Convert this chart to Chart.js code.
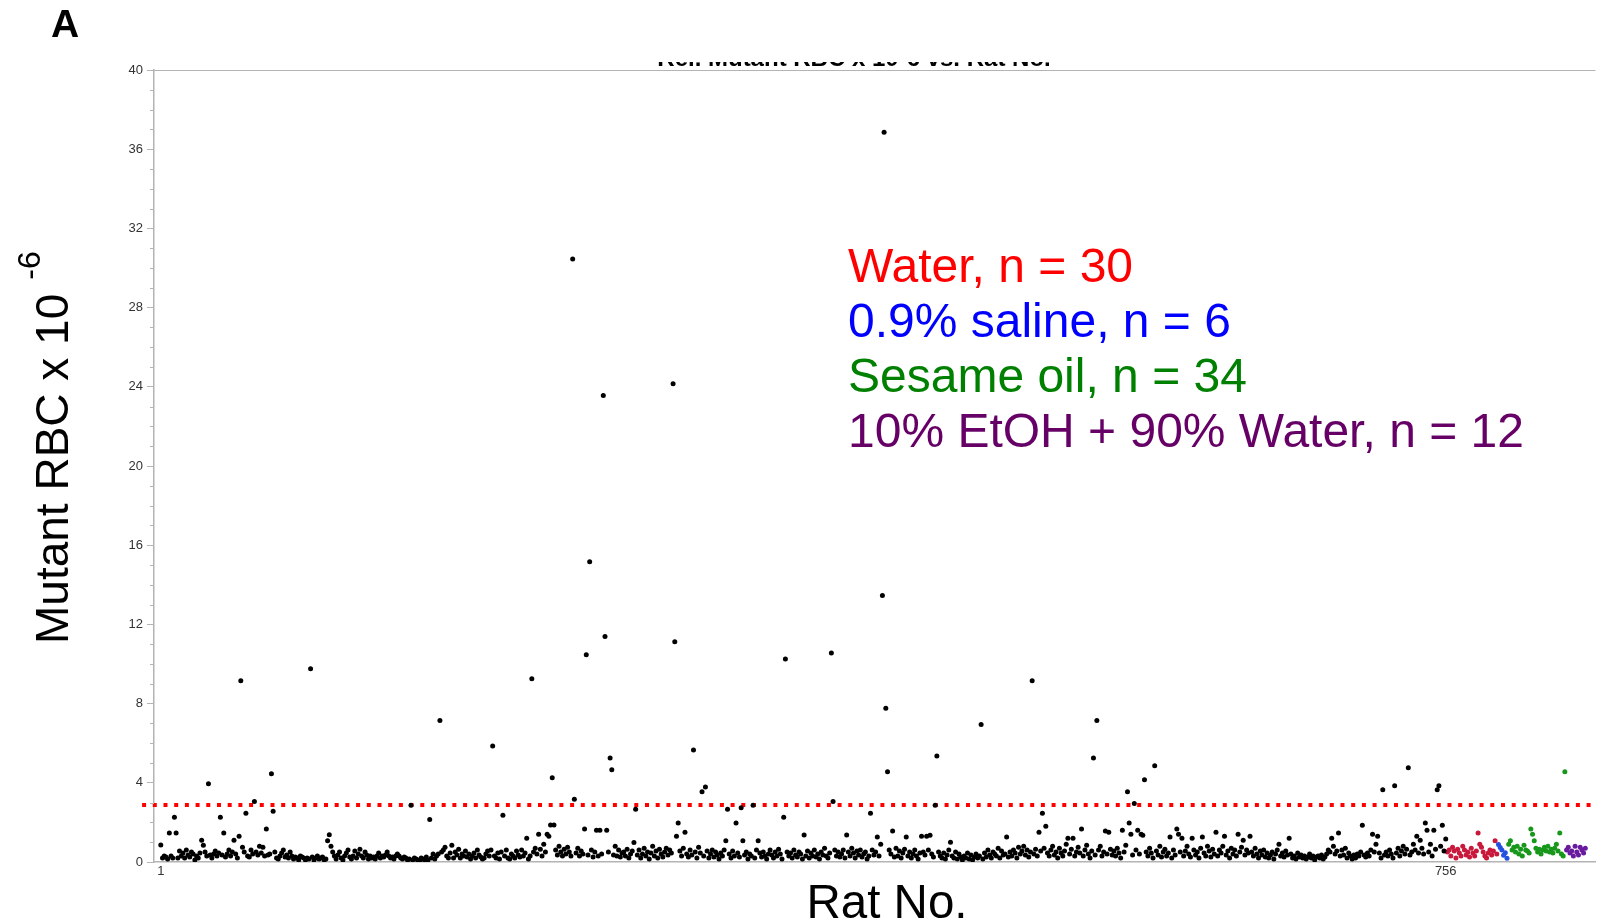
<!DOCTYPE html>
<html>
<head>
<meta charset="utf-8">
<title>Mutant RBC vs Rat No.</title>
<script src="https://cdn.jsdelivr.net/npm/chart.js@4"></script>
<style>
  html, body { margin: 0; padding: 0; background: #fff; }
  #wrap { width: 1598px; height: 924px; }
</style>
</head>
<body>
<div id="wrap"><canvas id="chartRbc" width="1598" height="924"></canvas></div>
<script>
// historical controls, rat 1..756 (black)
const historicalRats = [
  0.86, 0.2, 0.3, 0.25, 0.15, 1.46, 0.3, 0.2, 2.26, 1.46, 0.2, 0.55, 0.3, 0.45, 0.2, 0.6, 0.35, 0.25, 0.5, 0.4,
  0.1, 0.3, 0.2, 0.45, 1.1, 0.85, 0.5, 0.3, 3.95, 0.35, 0.2, 0.4, 0.55, 0.3, 0.45, 2.26, 0.35, 1.46, 0.25, 0.4,
  0.6, 0.3, 0.5, 1.1, 0.4, 0.2, 1.3, 9.16, 0.75, 0.5, 2.46, 0.3, 0.25, 0.6, 0.4, 3.06, 0.5, 0.35, 0.8, 0.45,
  0.75, 0.3, 1.67, 0.35, 0.4, 4.46, 2.56, 0.5, 0.2, 0.15, 0.3, 0.45, 0.6, 0.25, 0.35, 0.2, 0.5, 0.3, 0.15, 0.25,
  0.2, 0.1, 0.3, 0.25, 0.2, 0.1, 0.2, 0.15, 9.76, 0.25, 0.1, 0.2, 0.3, 0.15, 0.2, 0.25, 0.1, 0.15, 1.07, 1.37,
  0.8, 0.5, 0.3, 0.15, 0.35, 0.5, 0.2, 0.1, 0.3, 0.45, 0.6, 0.25, 0.15, 0.3, 0.55, 0.2, 0.4, 0.65, 0.3, 0.2,
  0.5, 0.35, 0.15, 0.3, 0.2, 0.25, 0.15, 0.3, 0.45, 0.2, 0.3, 0.25, 0.35, 0.5, 0.3, 0.2, 0.25, 0.15, 0.3, 0.4,
  0.3, 0.2, 0.15, 0.25, 0.2, 0.1, 0.15, 2.86, 0.1, 0.2, 0.15, 0.1, 0.05, 0.2, 0.15, 0.1, 0.25, 0.1, 2.15, 0.2,
  0.4, 0.15, 0.3, 0.4, 7.15, 0.5, 0.6, 0.75, 0.3, 0.2, 0.45, 0.85, 0.2, 0.5, 0.35, 0.65, 0.2, 0.4, 0.3, 0.55,
  0.25, 0.4, 0.15, 0.3, 0.45, 0.2, 0.6, 0.35, 0.25, 0.15, 0.2, 0.4, 0.55, 0.3, 0.6, 5.86, 0.3, 0.2, 0.45, 0.15,
  0.5, 2.36, 0.3, 0.6, 0.2, 0.15, 0.4, 0.3, 0.2, 0.55, 0.35, 0.25, 0.6, 0.3, 0.45, 1.2, 0.15, 0.3, 9.26, 0.5,
  0.7, 0.4, 1.4, 0.65, 0.3, 0.9, 0.5, 1.4, 1.3, 1.87, 4.26, 1.87, 0.6, 0.35, 0.8, 0.5, 0.3, 0.65, 0.4, 0.75,
  0.5, 0.3, 30.45, 3.17, 0.45, 0.7, 0.3, 0.55, 0.4, 1.67, 10.47, 0.35, 15.16, 0.6, 0.25, 0.5, 1.6, 0.3, 1.6, 0.4,
  23.56, 11.39, 1.6, 0.5, 5.25, 4.66, 0.35, 0.8, 0.3, 0.6, 0.25, 0.45, 0.5, 0.3, 0.65, 0.2, 0.4, 0.55, 0.98, 2.66,
  0.35, 0.6, 0.2, 0.4, 0.7, 0.3, 0.5, 0.15, 0.45, 0.8, 0.3, 0.55, 0.2, 0.65, 0.4, 0.25, 0.5, 0.7, 0.35, 0.6,
  0.45, 24.16, 11.13, 1.3, 1.97, 0.55, 0.3, 0.7, 1.5, 0.4, 0.25, 0.6, 0.35, 5.66, 0.5, 0.2, 0.75, 0.45, 3.55, 0.3,
  3.79, 0.55, 0.2, 0.4, 0.6, 0.25, 0.5, 0.35, 0.15, 0.45, 0.3, 0.6, 1.07, 2.66, 0.4, 0.2, 0.55, 0.3, 1.97, 0.45,
  0.25, 2.74, 1.07, 0.35, 0.5, 0.15, 0.4, 0.3, 2.86, 0.2, 0.6, 1.07, 0.45, 0.25, 0.5, 0.3, 0.15, 0.4, 0.6, 0.35,
  0.2, 0.5, 0.3, 0.65, 0.4, 0.15, 2.26, 10.25, 0.5, 0.3, 0.45, 0.2, 0.6, 0.35, 0.25, 0.5, 0.4, 0.15, 1.36, 0.3,
  0.55, 0.2, 0.45, 0.3, 0.6, 0.25, 0.4, 0.15, 0.5, 0.35, 0.7, 0.3, 0.2, 0.45, 10.56, 3.06, 0.6, 0.3, 0.5, 0.25,
  0.4, 0.6, 0.2, 1.36, 0.5, 0.3, 0.7, 0.45, 0.2, 0.55, 0.35, 0.6, 0.25, 0.4, 0.5, 0.15, 0.3, 2.46, 0.6, 0.35,
  0.5, 1.26, 0.3, 0.9, 13.46, 36.85, 7.76, 4.56, 0.6, 0.4, 1.57, 0.25, 0.7, 0.3, 0.55, 0.2, 0.45, 0.65, 1.26, 0.3,
  0.5, 0.2, 0.4, 0.6, 0.3, 0.15, 0.45, 1.3, 0.5, 0.35, 1.3, 0.6, 1.35, 0.4, 0.25, 2.86, 5.35, 0.5, 0.3, 0.2,
  0.45, 0.15, 0.35, 0.6, 1.0, 0.3, 0.2, 0.5, 0.15, 0.4, 0.25, 0.1, 0.3, 0.2, 0.45, 0.15, 0.35, 0.1, 0.25, 0.4,
  0.2, 0.3, 6.95, 0.15, 0.45, 0.25, 0.6, 0.35, 0.2, 0.5, 0.4, 0.3, 0.7, 0.2, 0.55, 0.35, 0.4, 1.26, 0.25, 0.5,
  0.3, 0.6, 0.45, 0.2, 0.75, 0.4, 0.55, 0.8, 0.35, 0.6, 0.25, 0.5, 9.16, 0.4, 0.65, 0.3, 1.5, 0.55, 2.46, 0.7,
  1.8, 0.45, 0.3, 0.6, 0.8, 0.35, 0.5, 0.2, 0.7, 0.45, 0.3, 0.55, 0.9, 1.2, 0.4, 0.65, 1.2, 0.3, 0.5, 0.75,
  0.45, 1.67, 0.3, 0.6, 0.85, 0.4, 0.2, 0.55, 5.25, 0.35, 7.15, 0.6, 0.8, 0.3, 0.5, 1.57, 0.4, 1.5, 0.65, 0.35,
  0.55, 0.3, 0.7, 0.45, 0.2, 1.6, 0.5, 0.85, 3.55, 1.97, 1.4, 0.35, 2.96, 0.6, 1.6, 0.4, 1.4, 1.35, 4.16, 0.5,
  0.3, 0.7, 0.45, 0.2, 4.86, 0.55, 0.35, 0.8, 0.25, 0.5, 0.65, 0.3, 0.45, 1.26, 0.2, 0.6, 0.35, 1.67, 1.4, 0.5,
  1.2, 0.3, 0.55, 0.8, 0.4, 0.25, 1.2, 0.6, 0.35, 0.5, 0.2, 0.7, 1.26, 0.45, 0.3, 0.8, 0.55, 0.25, 0.65, 0.4,
  1.5, 0.3, 0.6, 0.45, 0.8, 1.3, 0.35, 0.55, 0.2, 0.7, 0.4, 0.6, 0.3, 1.4, 0.5, 0.75, 1.1, 0.35, 0.6, 0.45,
  1.3, 0.5, 0.3, 0.7, 0.4, 0.2, 0.55, 0.35, 0.6, 0.25, 0.45, 0.2, 0.35, 0.5, 0.15, 0.4, 0.6, 0.9, 0.3, 0.45,
  0.25, 0.55, 0.35, 1.2, 0.4, 0.2, 0.3, 0.15, 0.45, 0.25, 0.35, 0.2, 0.3, 0.15, 0.25, 0.4, 0.2, 0.3, 0.1, 0.25,
  0.3, 0.2, 0.35, 0.15, 0.25, 0.4, 0.6, 0.5, 1.2, 0.8, 0.4, 0.55, 1.46, 0.3, 0.6, 0.35, 0.7, 0.2, 0.45, 0.3,
  0.15, 0.35, 0.2, 0.4, 0.3, 0.5, 1.86, 0.35, 0.25, 0.45, 0.3, 0.6, 1.4, 0.5, 0.9, 1.3, 0.45, 0.2, 3.65, 0.35,
  0.5, 0.3, 0.6, 0.4, 0.2, 3.85, 0.45, 0.7, 0.3, 0.55, 0.8, 0.4, 0.65, 4.76, 0.35, 0.5, 0.9, 0.6, 1.3, 0.45,
  1.1, 0.7, 0.4, 1.97, 1.6, 0.5, 0.9, 0.3, 1.6, 0.65, 3.65, 3.85, 0.8, 1.86, 0.55, 1.16
];

// vehicle groups, following on after rat 756
const waterVals = [0.5, 0.6, 0.3, 0.75, 0.55, 0.2, 0.65, 0.45, 0.3, 0.8, 0.6, 0.35, 0.5, 0.25, 0.7,
  0.45, 0.3, 0.55, 1.46, 0.9, 0.75, 0.5, 0.3, 0.2, 0.45, 0.6, 0.35, 0.55, 1.07, 0.4];
const salineVals = [0.89, 0.73, 0.61, 0.34, 0.47, 0.19];
const sesameVals = [0.9, 1.07, 0.6, 0.75, 0.5, 0.8, 0.4, 0.65, 0.3, 0.85, 0.6, 0.55, 0.45, 1.67, 1.4, 1.07, 0.7,
  0.5, 0.65, 0.4, 0.6, 0.75, 0.55, 0.8, 0.5, 0.65, 0.45, 0.7, 0.9, 0.55, 1.46, 0.4, 0.3, 4.56];
const etohVals = [0.6, 0.75, 0.45, 0.55, 0.3, 0.8, 0.5, 0.35, 0.75, 0.6, 0.45, 0.7];

const xTickVals = [1, 756];
const yTickStep = 4;
const cutoff = 2.88;

const groupLabels = ["Water, n = 30", "0.9% saline, n = 6", "Sesame oil, n = 34", "10% EtOH + 90% Water, n = 12"];
const groupText = ["#ff0000", "#0000ff", "#008000", "#660066"];
const groupDots = ["#c8193c", "#2450e0", "#17981a", "#6a1a9e"];

const FONT = '"Liberation Sans", Arial, Helvetica, sans-serif';

function toPoints(vals, start) {
  return vals.map((v, i) => ({ x: start + i, y: v }));
}

let start = 1;
const blackPts = toPoints(historicalRats, start); start += historicalRats.length;
const waterPts = toPoints(waterVals, start); start += waterVals.length;
const salinePts = toPoints(salineVals, start); start += salineVals.length;
const sesamePts = toPoints(sesameVals, start); start += sesameVals.length;
const etohPts = toPoints(etohVals, start);

function dots(data, color) {
  return {
    type: "scatter",
    data,
    pointRadius: 2.5,
    pointBorderWidth: 0,
    backgroundColor: color,
    borderColor: color,
    pointHoverRadius: 2.5
  };
}

// extra drawing: frame line, minor ticks, titles and group text
const decorations = {
  id: "decorations",
  afterDraw(chart) {
    const ctx = chart.ctx;
    const area = chart.chartArea;
    const ys = chart.scales.y;

    ctx.save();
    ctx.strokeStyle = "#b4b4b4";
    ctx.lineWidth = 1.2;
    ctx.beginPath();
    ctx.moveTo(area.left, area.top + 0.5);
    ctx.lineTo(area.right, area.top + 0.5);
    ctx.stroke();

    // minor ticks
    ctx.lineWidth = 1;
    for (let v = 1; v < 40; v++) {
      if (v % yTickStep === 0) continue;
      const py = Math.round(ys.getPixelForValue(v)) + 0.5;
      ctx.beginPath();
      ctx.moveTo(area.left - 4, py);
      ctx.lineTo(area.left, py);
      ctx.stroke();
    }
    ctx.restore();

    // panel letter
    ctx.save();
    ctx.fillStyle = "#000";
    ctx.font = "bold 39px " + FONT;
    ctx.fillText("A", 51, 37);
    ctx.restore();

    // chart title, mostly cut off at the top of the frame
    ctx.save();
    ctx.beginPath();
    ctx.rect(area.left, 62, area.right - area.left, 6);
    ctx.clip();
    ctx.fillStyle = "#000";
    ctx.font = "bold 24px " + FONT;
    ctx.textAlign = "center";
    ctx.fillText("Rel. Mutant RBC x 10-6 vs. Rat No.", 854, 65.5);
    ctx.restore();

    // y axis title with superscript
    ctx.save();
    ctx.translate(68, 644);
    ctx.rotate(-Math.PI / 2);
    ctx.fillStyle = "#000";
    ctx.font = "46px " + FONT;
    const main = "Mutant RBC x 10";
    ctx.fillText(main, 0, 0);
    const w = ctx.measureText(main).width;
    ctx.font = "32px " + FONT;
    ctx.fillText("-6", w + 14, -28);
    ctx.restore();

    // x axis title
    ctx.save();
    ctx.fillStyle = "#000";
    ctx.font = "47.5px " + FONT;
    ctx.textAlign = "center";
    ctx.fillText("Rat No.", 887, 918);
    ctx.restore();

    // group text
    ctx.save();
    ctx.font = "48px " + FONT;
    groupLabels.forEach((t, i) => {
      ctx.fillStyle = groupText[i];
      ctx.fillText(t, 848, 282 + i * 55);
    });
    ctx.restore();
  }
};

new Chart(document.getElementById("chartRbc"), {
  type: "scatter",
  data: {
    datasets: [
      dots(blackPts, "#000000"),
      dots(waterPts, groupDots[0]),
      dots(salinePts, groupDots[1]),
      dots(sesamePts, groupDots[2]),
      dots(etohPts, groupDots[3]),
      {
        type: "line",
        data: [{ x: -10, y: cutoff }, { x: 844, y: cutoff }],
        borderColor: "#ff0000",
        borderWidth: 4,
        borderDash: [4, 6.7],
        borderCapStyle: "butt",
        pointRadius: 0,
        fill: false,
        clip: false,
        order: 10
      }
    ]
  },
  options: {
    responsive: false,
    animation: false,
    events: [],
    layout: { padding: { top: 70, right: 0, left: 0, bottom: 0 } },
    plugins: {
      legend: { display: false },
      tooltip: { enabled: false },
      title: { display: false }
    },
    scales: {
      x: {
        type: "linear",
        min: -3,
        max: 844,
        afterFit: s => { s.height = 62; },
        afterBuildTicks: s => { s.ticks = xTickVals.map(v => ({ value: v })); },
        grid: { display: false, drawTicks: false, tickLength: 0 },
        border: { display: true, color: "#b4b4b4", width: 1.5 },
        ticks: {
          autoSkip: false,
          maxRotation: 0,
          padding: 2,
          color: "#333",
          font: { family: FONT, size: 13 },
          callback: v => String(v)
        }
      },
      y: {
        min: 0,
        max: 40,
        afterFit: s => { s.width = 154; },
        grid: {
          drawOnChartArea: false,
          tickLength: 7,
          tickColor: c => (c.tick && c.tick.value % yTickStep === 0) ? "#b4b4b4" : "rgba(0,0,0,0)"
        },
        border: { display: true, color: "#b4b4b4", width: 1.5 },
        ticks: {
          stepSize: 1,
          autoSkip: false,
          padding: 4,
          color: "#333",
          font: { family: FONT, size: 13 },
          callback: v => (v % yTickStep === 0 ? String(v) : "")
        }
      }
    }
  },
  plugins: [decorations]
});
</script>
</body>
</html>
